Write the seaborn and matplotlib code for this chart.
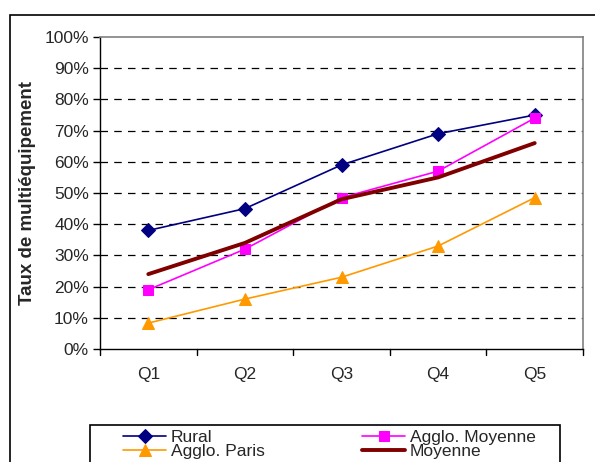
import matplotlib
matplotlib.use("Agg")
import matplotlib.pyplot as plt
import seaborn as sns
import pandas as pd
from matplotlib.patches import Rectangle

categories = ["Q1", "Q2", "Q3", "Q4", "Q5"]
rural = [38, 45, 59, 69, 75]
agglo_moyenne = [19, 32, 48.5, 57, 74]
agglo_paris = [8.3, 16, 23, 33, 48.5]
moyenne = [24, 34, 48, 55, 66]
yticks = [0, 10, 20, 30, 40, 50, 60, 70, 80, 90, 100]

sns.set_theme(style="white")
plt.rcParams['font.family'] = ['Liberation Sans', 'DejaVu Sans']

W, H = 595, 462
fig = plt.figure(figsize=(W/100, H/100), dpi=100)
ax = fig.add_axes([100/W, 1-349/H, 483/W, 312/H])

x = list(range(len(categories)))
series = [
    ("Rural", rural, "#000080", "D", 1.2, 7),
    ("Agglo. Paris", agglo_paris, "#FF9900", "^", 1.2, 8.5),
    ("Agglo. Moyenne", agglo_moyenne, "#FF00FF", "s", 1.2, 7.5),
    ("Moyenne", moyenne, "#800000", None, 2.8, 0),
]
for name, vals, col, mk, lw, ms in series:
    df = pd.DataFrame({"x": x, "y": vals})
    sns.lineplot(data=df, x="x", y="y", ax=ax, color=col, marker=mk, markersize=ms,
                 linewidth=lw, label=name, markeredgecolor=col, zorder=3)

ax.set_xlim(-0.5, 4.5)
ax.set_ylim(0, 100)
ax.set_yticks(yticks)
ax.set_yticklabels([f"{v}%" for v in yticks], fontsize=12.5)
ax.set_xticks(x)
ax.set_xticklabels(categories, fontsize=12.5)
ax.tick_params(axis='x', length=0, pad=13)
ax.tick_params(axis='y', length=5, width=1, color='black', direction='out', left=True, pad=3)
for b in [-0.5, 0.5, 1.5, 2.5, 3.5, 4.5]:
    ax.plot([b, b], [0, -1.8], color='black', lw=1, clip_on=False)

for v in yticks[1:-1]:
    ax.axhline(v, color='black', lw=0.9, ls=(0, (6, 5)), zorder=1)

ax.set_xlabel("")
ax.set_ylabel("Taux de multiéquipement", fontsize=13.5, fontweight='bold', labelpad=6)

for s in ["top", "right"]:
    ax.spines[s].set_color("#808080")
    ax.spines[s].set_linewidth(1.2)
for s in ["left", "bottom"]:
    ax.spines[s].set_color("black")
    ax.spines[s].set_linewidth(1)

handles, labels = ax.get_legend_handles_labels()
leg = fig.legend(handles, labels, ncol=2, loc='upper left',
                 bbox_to_anchor=(123/W, 1-430/H), frameon=False,
                 fontsize=12.5, handlelength=2.5, columnspacing=5.6,
                 labelspacing=-0.05, borderpad=0, handletextpad=0.25, borderaxespad=0)
if ax.get_legend():
    ax.get_legend().remove()

fig.patches.append(Rectangle((90/W, -0.1), 470/W, (H-425)/H + 0.1, transform=fig.transFigure,
                             fill=False, edgecolor='black', lw=1.2))
fig.patches.append(Rectangle((10/W, -0.1), 1.0, 1 - 15/H + 0.1, transform=fig.transFigure,
                             fill=False, edgecolor='black', lw=1.2))

fig.savefig("out.png", dpi=100)
